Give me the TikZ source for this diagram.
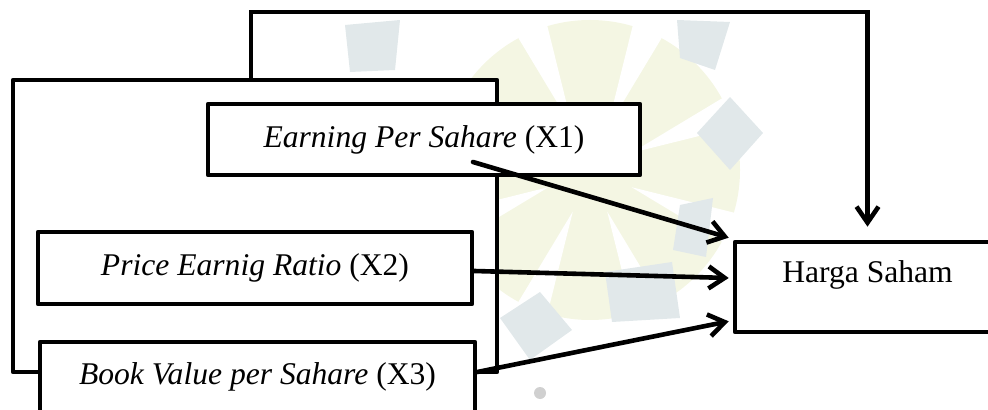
\documentclass[tikz,border=0pt]{standalone}
\usepackage{fontspec}
\setmainfont{Liberation Serif}
\usetikzlibrary{arrows.meta,calc}
\definecolor{leafgreen}{HTML}{F4F6E3}
\definecolor{tilegray}{HTML}{E1E8EA}
\definecolor{dotgray}{HTML}{D0D0D0}

\begin{document}
\begin{tikzpicture}[x=0.5pt,y=-0.5pt,
  line/.style={line width=2.3pt, line join=round},
  box/.style={draw, line width=2.3pt, fill=white, inner sep=0pt, line join=round,
    font=\fontsize{15.8}{19}\selectfont},
  conn/.style={line width=2.3pt, line cap=round,
    -{Straight Barb[length=8pt,width=11pt,line width=2.3pt]}},
]
\useasboundingbox (0,0) rectangle (988,410);
\clip (0,0) rectangle (988,410);

% faint emblem in the background
\fill[leafgreen] (590,170) circle [radius=150];
\foreach \a in {22.5,67.5,...,360}
  \fill[white] ($(590,170)+(\a:45)$) -- ($(590,170)+(\a+6:150)$)
    -- ($(590,170)+(\a:165)$) -- ($(590,170)+(\a-6:150)$) -- cycle;
\fill[tilegray] (697,133) -- (730,97) -- (763,133) -- (730,170) -- cycle;
\fill[tilegray] (677,20) -- (730,22) -- (715,70) -- (680,58) -- cycle;
\fill[tilegray] (680,205) -- (713,198) -- (706,257) -- (673,250) -- cycle;
\fill[tilegray] (605,272) -- (672,262) -- (680,318) -- (612,322) -- cycle;
\fill[tilegray] (500,318) -- (540,292) -- (572,330) -- (530,360) -- cycle;
\fill[tilegray] (345,25) -- (400,20) -- (395,70) -- (350,72) -- cycle;
\fill[dotgray] (540,393) circle [radius=6];

% frame grouping the three factors
\filldraw[line, fill=white] (13,80) rectangle (497,372);
\coordinate (frametop) at (251,80);

% factor boxes
\node[box, minimum width=216pt, minimum height=35.5pt] (x1) at (424,139.5)
  {\textit{Earning Per Sahare} (X1)};
\node[box, minimum width=217pt, minimum height=36pt] (x2) at (255,268)
  {\textit{Price Earnig Ratio} (X2)};
\node[box, minimum width=217.5pt, minimum height=35pt] (x3) at (257.5,377)
  {\textit{Book Value per Sahare} (X3)};
\node[box, minimum width=132.5pt, minimum height=45pt] (harga) at (867.5,287) {};
\node[anchor=base, inner sep=0pt, font=\fontsize{15.8}{19}\selectfont] (hargatext)
  at (867.5,283) {Harga Saham};

% joint influence of the frame
\draw[conn, line cap=butt] (frametop) -- (251,12) -| ($(harga.north)+(0,-13)$);

% individual influences
\coordinate (x1out) at (473,162);
\draw[conn] (x1out) -- ($(harga.north west)+(-4,-2)$);
\draw[conn] ($(x2.east)+(0,3)$) -- ($(harga.west)+(-4,-9)$);
\draw[conn] ($(x3.east)+(0,-5)$) -- ($(harga.south west)+(-4,-13)$);
\end{tikzpicture}
\end{document}
